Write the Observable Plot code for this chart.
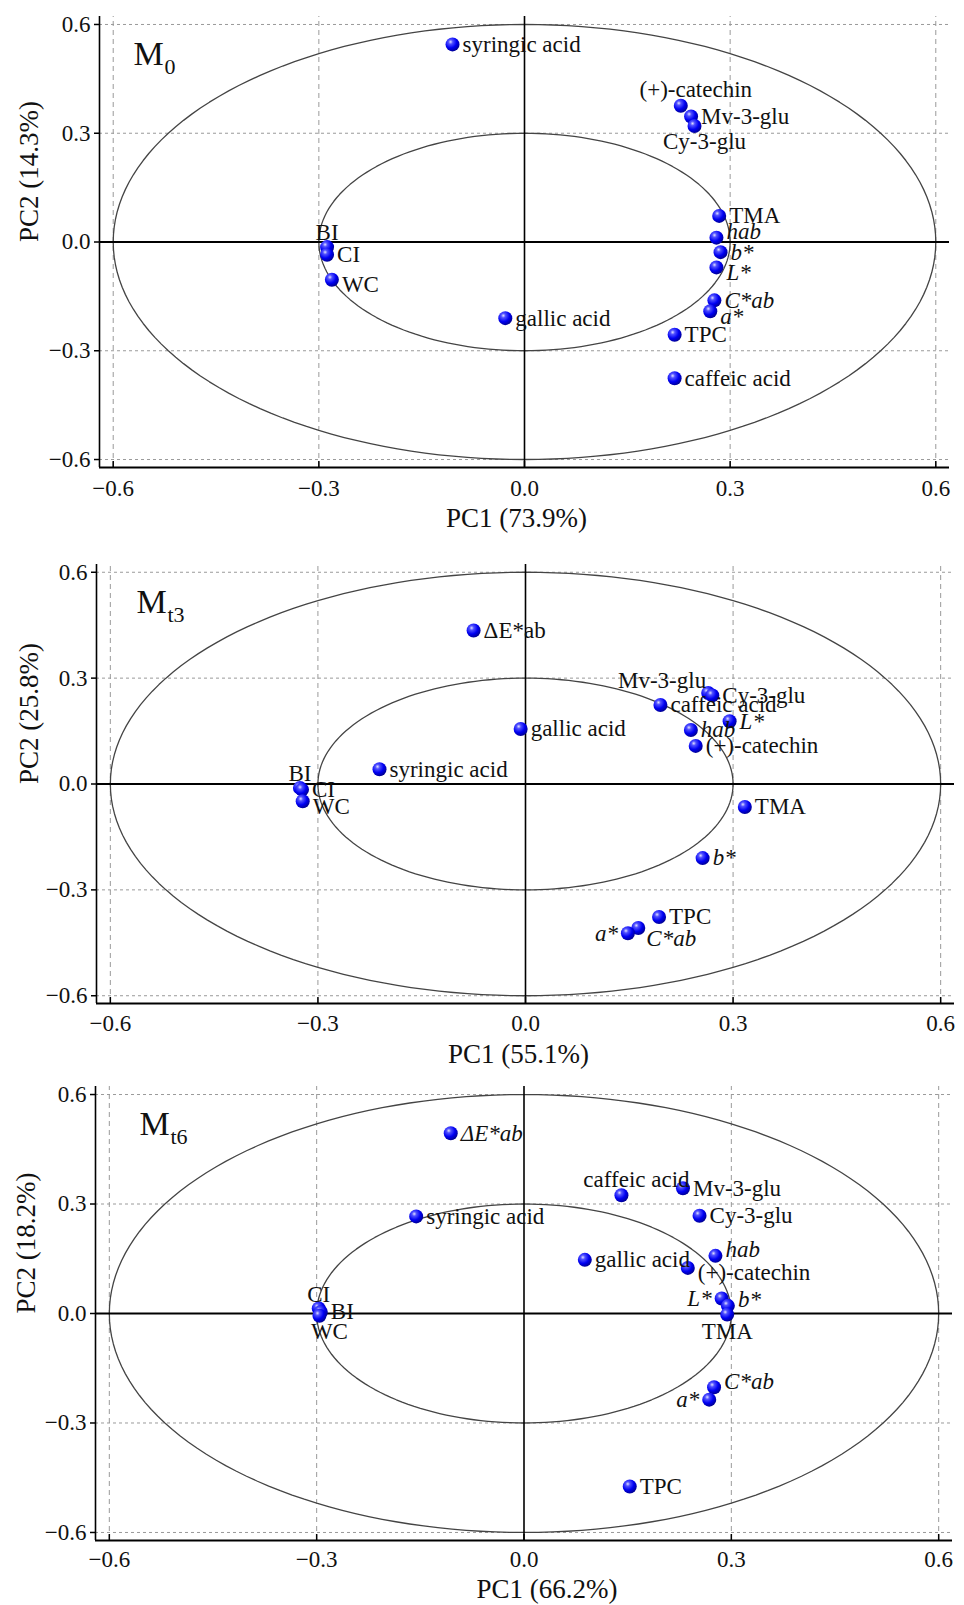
<!DOCTYPE html>
<html><head><meta charset="utf-8">
<script src="https://cdn.jsdelivr.net/npm/d3@7"></script>
<script src="https://cdn.jsdelivr.net/npm/@observablehq/plot@0.6"></script>
<style>body{margin:0;background:#fff}#chart{width:964px}svg{display:block}</style>
</head><body><div id="chart"></div>
<script>
// ---- data ----
const m0Names = ["syringic acid","(+)-catechin","Mv-3-glu","Cy-3-glu","TMA","hab","b*","L*","C*ab","a*","TPC","caffeic acid","gallic acid","BI","CI","WC"];
const m0PC1 = [-0.105,0.228,0.243,0.248,0.284,0.280,0.286,0.280,0.277,0.271,0.219,0.219,-0.028,-0.288,-0.288,-0.281];
const m0PC2 = [0.545,0.376,0.346,0.320,0.072,0.012,-0.028,-0.070,-0.161,-0.191,-0.256,-0.376,-0.210,-0.014,-0.035,-0.104];
const m0Place = ["r","tr","r","br","r","ru","r","rd","r","rd","r","r","r","t","r","rd"];

const t3Names = ["ΔE*ab","Mv-3-glu","Cy-3-glu","caffeic acid","L*","hab","(+)-catechin","gallic acid","syringic acid","BI","CI","WC","TMA","b*","TPC","C*ab","a*"];
const t3PC1 = [-0.075,0.264,0.270,0.195,0.295,0.239,0.246,-0.007,-0.211,-0.326,-0.323,-0.322,0.317,0.256,0.193,0.163,0.148];
const t3PC2 = [0.435,0.258,0.251,0.224,0.178,0.153,0.108,0.156,0.042,-0.011,-0.016,-0.049,-0.065,-0.210,-0.377,-0.408,-0.423];
const t3Place = ["r","tl","r","r","r","r","r","r","r","t","r","rd","r","r","r","rdd","l"];

const t6Names = ["ΔE*ab","caffeic acid","Mv-3-glu","Cy-3-glu","syringic acid","gallic acid","hab","(+)-catechin","L*","b*","TMA","CI","BI","WC","C*ab","a*","TPC"];
const t6PC1 = [-0.106,0.141,0.230,0.254,-0.156,0.088,0.277,0.237,0.286,0.295,0.294,-0.297,-0.294,-0.296,0.275,0.268,0.153];
const t6PC2 = [0.494,0.324,0.343,0.268,0.266,0.147,0.158,0.125,0.041,0.021,-0.003,0.014,0.004,-0.006,-0.202,-0.236,-0.474];
const t6Place = ["r","tr","r","r","r","r","ru","rd","l","ru","b","t","r","br","ru","l","r"];

const panelSubs = ["0","t3","t6"];
const pc1Labels = ["PC1 (73.9%)","PC1 (55.1%)","PC1 (66.2%)"];
const pc2Labels = ["PC2 (14.3%)","PC2 (25.8%)","PC2 (18.2%)"];
const axisTicks = [-0.6,-0.3,0.0,0.3,0.6];
const gridTicks = [-0.6,-0.3,0.3,0.6];
const circleRadii = [0.6,0.3];
const italicM0 = ["hab","b*","L*","C*ab","a*"];
const italicT3 = ["hab","b*","L*","C*ab","a*"];
const italicT6 = ["hab","b*","L*","C*ab","a*","ΔE*ab"];

// ---- layout ----
const offsets = {
  r:[10,0,"start"], ru:[10,-6,"start"], rd:[10,5,"start"], rdd:[8,11,"start"],
  l:[-10,0,"end"], t:[0,-14,"middle"], tr:[15,-16,"middle"], tl:[-2,-12,"end"],
  b:[0,17,"middle"], br:[10,16,"middle"]
};
const FONT = "Liberation Serif, Times New Roman, serif";
const panels = [
  {names:m0Names,pc1:m0PC1,pc2:m0PC2,place:m0Place,italic:italicM0,height:540,mt:16,mb:73,ml:99,mr:15,tickDy:21,titleDy:51,titleDx:-8,yTitleDx:-70,mDx:34},
  {names:t3Names,pc1:t3PC1,pc2:t3PC2,place:t3Place,italic:italicT3,height:530,mt:24,mb:67,ml:96,mr:10,tickDy:20,titleDy:51,titleDx:-7,yTitleDx:-67,mDx:40},
  {names:t6Names,pc1:t6PC1,pc2:t6PC2,place:t6Place,italic:italicT6,height:535,mt:16,mb:65,ml:95,mr:12,tickDy:19,titleDy:49,titleDx:23,yTitleDx:-69,mDx:44}
];
const xlo=-0.62, xhi=0.62, ylo=-0.622, yhi=0.622;

function ballDefs(id){
  return () => {
    const defs = d3.create("svg:defs");
    const g = defs.append("radialGradient").attr("id",id).attr("cx","36%").attr("cy","32%").attr("r","72%");
    g.append("stop").attr("offset","0%").attr("stop-color","#e0e0ff");
    g.append("stop").attr("offset","22%").attr("stop-color","#5050ff");
    g.append("stop").attr("offset","60%").attr("stop-color","#0000f2");
    g.append("stop").attr("offset","100%").attr("stop-color","#00008c");
    return defs.node();
  };
}

const fmt = d3.format(".1f");
const chart = document.getElementById("chart");

panels.forEach((p, k) => {
  const rows = p.names.map((n,i)=>({name:n, pc1:p.pc1[i], pc2:p.pc2[i], place:p.place[i], it:p.italic.includes(n)}));
  const circ = circleRadii.flatMap(r => d3.range(0,361,2).map(a => ({r, x:r*Math.cos(a*Math.PI/180), y:r*Math.sin(a*Math.PI/180)})));
  const pw = 964 - p.ml - p.mr, ph = p.height - p.mt - p.mb;
  const tx = (xhi-xlo)*5/pw, ty = (yhi-ylo)*6/ph;
  const labelMarks = [];
  const groups = d3.groups(rows, d=>d.place+"|"+d.it);
  for (const [key, g] of groups) {
    const [dx,dy,anchor] = offsets[g[0].place];
    labelMarks.push(Plot.text(g, {x:"pc1", y:"pc2", text:"name", dx, dy, textAnchor:anchor,
      fontSize:23, fontStyle: g[0].it ? "italic" : "normal", fill:"#111"}));
  }
  const id = "ball"+k;
  const svg = Plot.plot({
    width:964, height:p.height,
    marginTop:p.mt, marginBottom:p.mb, marginLeft:p.ml, marginRight:p.mr,
    style:{fontFamily:FONT, background:"#fff", overflow:"visible"},
    x:{domain:[xlo,xhi], axis:null},
    y:{domain:[ylo,yhi], axis:null},
    marks:[
      ballDefs(id),
      Plot.ruleX(gridTicks, {x:d=>d, y1:ylo, y2:yhi, stroke:"#9a9a9a", strokeWidth:1, strokeDasharray:"5,4"}),
      Plot.ruleY(gridTicks, {y:d=>d, x1:xlo, x2:xhi, stroke:"#9a9a9a", strokeWidth:1, strokeDasharray:"3,3"}),
      Plot.line(circ, {x:"x", y:"y", z:"r", stroke:"#444", strokeWidth:1.3}),
      Plot.ruleX([0], {y1:ylo, y2:yhi, stroke:"#000", strokeWidth:1.6}),
      Plot.ruleY([0], {x1:xlo, x2:xhi, stroke:"#000", strokeWidth:2.2}),
      Plot.ruleX([xlo], {y1:ylo, y2:yhi, stroke:"#000", strokeWidth:1.6}),
      Plot.ruleY([ylo], {x1:xlo, x2:xhi, stroke:"#000", strokeWidth:2.2}),
      Plot.ruleY(axisTicks, {y:d=>d, x1:xlo-tx, x2:xlo, stroke:"#000", strokeWidth:1.5}),
      Plot.ruleX(axisTicks, {x:d=>d, y1:ylo, y2:ylo+ty, stroke:"#000", strokeWidth:1.5}),
      Plot.text(axisTicks, {x:d=>d, frameAnchor:"bottom", lineAnchor:"middle", dy:p.tickDy, text:d=>fmt(d), fontSize:23, fill:"#111"}),
      Plot.text(axisTicks, {y:d=>d, frameAnchor:"left", lineAnchor:"middle", dx:-9, textAnchor:"end", text:d=>fmt(d), fontSize:23, fill:"#111"}),
      Plot.text([pc1Labels[k]], {frameAnchor:"bottom", lineAnchor:"middle", dy:p.titleDy, dx:p.titleDx, text:d=>d, fontSize:27, fill:"#111"}),
      Plot.text([pc2Labels[k]], {frameAnchor:"left", lineAnchor:"middle", dx:p.yTitleDx, rotate:-90, text:d=>d, fontSize:27, fill:"#111"}),
      Plot.text(["M"], {frameAnchor:"top-left", lineAnchor:"middle", dx:p.mDx, dy:38, text:d=>d, fontSize:34, textAnchor:"start", fill:"#111"}),
      Plot.text([panelSubs[k]], {frameAnchor:"top-left", lineAnchor:"middle", dx:p.mDx+31, dy:50, text:d=>d, fontSize:22, textAnchor:"start", fill:"#111"}),
      Plot.dot(rows, {x:"pc1", y:"pc2", r:7, fill:`url(#${id})`, stroke:"none"}),
      ...labelMarks
    ]
  });
  chart.appendChild(svg);
});
</script>
</body></html>
